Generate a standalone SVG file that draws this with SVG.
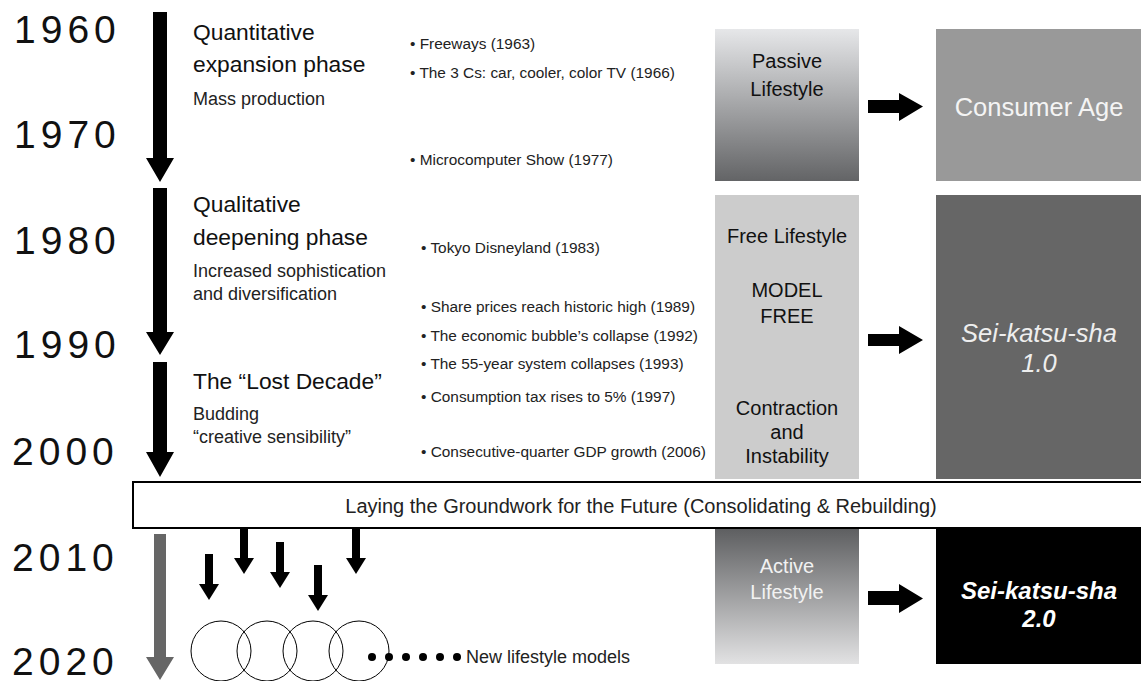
<svg xmlns="http://www.w3.org/2000/svg" width="1141" height="681" viewBox="0 0 1141 681">
<defs>
<linearGradient id="gPassive" x1="0" y1="0" x2="0" y2="1"><stop offset="0" stop-color="#e6e7e9"/><stop offset="1" stop-color="#636466"/></linearGradient>
<linearGradient id="gActive" x1="0" y1="0" x2="0" y2="1"><stop offset="0" stop-color="#5e5f61"/><stop offset="1" stop-color="#e2e2e3"/></linearGradient>
<style>
text{font-family:"Liberation Sans",Arial,sans-serif}
.yr{font-size:39px;fill:#111;letter-spacing:5px}
.ph{font-size:22.8px;fill:#111}
.sub{font-size:18px;fill:#222}
.ev{font-size:15.4px;fill:#222}
.bx{font-size:20px;text-anchor:middle}
.big{font-size:25.5px;text-anchor:middle}
</style>
</defs>
<rect width="1141" height="681" fill="#fff"/>

<g id="years">
<text class="yr" x="14" y="43">1960</text>
<text class="yr" x="14" y="148">1970</text>
<text class="yr" x="14" y="254">1980</text>
<text class="yr" x="14" y="358">1990</text>
<text class="yr" x="12" y="465">2000</text>
<text class="yr" x="12" y="571">2010</text>
<text class="yr" x="12" y="675">2020</text>
</g>

<g id="timeline-arrows">
<polygon points="153,12 167,12 167,158 174,158 160,182 146,158 153,158" fill="#000"/>
<polygon points="153,188 167,188 167,332 174,332 160,355 146,332 153,332" fill="#000"/>
<polygon points="153,362 167,362 167,452 174,452 160,477 146,452 153,452" fill="#000"/>
<polygon points="154,534 166,534 166,657 174,657 160,680 146,657 154,657" fill="#666"/>
</g>

<g id="phase1">
<text class="ph" x="193" y="40">Quantitative</text>
<text class="ph" x="193" y="72">expansion phase</text>
<text class="sub" x="193" y="105">Mass production</text>
</g>
<g id="phase2">
<text class="ph" x="193" y="212">Qualitative</text>
<text class="ph" x="193" y="245">deepening phase</text>
<text class="sub" x="193" y="277">Increased sophistication</text>
<text class="sub" x="193" y="300">and diversification</text>
</g>
<g id="phase3">
<text class="ph" x="193" y="389">The “Lost Decade”</text>
<text class="sub" x="193" y="420">Budding</text>
<text class="sub" x="193" y="443">“creative sensibility”</text>
</g>

<g id="events">
<text class="ev" x="410" y="49">• Freeways (1963)</text>
<text class="ev" x="410" y="78">• The 3 Cs: car, cooler, color TV (1966)</text>
<text class="ev" x="410" y="165">• Microcomputer Show (1977)</text>
<text class="ev" x="421" y="253">• Tokyo Disneyland (1983)</text>
<text class="ev" x="421" y="312">• Share prices reach historic high (1989)</text>
<text class="ev" x="421" y="341">• The economic bubble’s collapse (1992)</text>
<text class="ev" x="421" y="369">• The 55-year system collapses (1993)</text>
<text class="ev" x="421" y="402">• Consumption tax rises to 5% (1997)</text>
<text class="ev" x="421" y="457">• Consecutive-quarter GDP growth (2006)</text>
</g>

<g id="passive">
<rect x="715" y="29" width="144" height="152" fill="url(#gPassive)"/>
<text class="bx" x="787" y="68" fill="#111">Passive</text>
<text class="bx" x="787" y="96" fill="#111">Lifestyle</text>
</g>
<g id="consumer-age">
<rect x="936" y="29" width="205" height="152" fill="#999"/>
<text class="big" x="1039" y="116" fill="#f4f4f4">Consumer Age</text>
</g>
<g id="free">
<rect x="715" y="195" width="144" height="284" fill="#ccc"/>
<text class="bx" x="787" y="243" fill="#111">Free Lifestyle</text>
<text class="bx" x="787" y="297" fill="#111">MODEL</text>
<text class="bx" x="787" y="323" fill="#111">FREE</text>
<text class="bx" x="787" y="415" fill="#111">Contraction</text>
<text class="bx" x="787" y="439" fill="#111">and</text>
<text class="bx" x="787" y="463" fill="#111">Instability</text>
</g>
<g id="seikatsusha1">
<rect x="936" y="195" width="205" height="284" fill="#666"/>
<text class="big" x="1039" y="342" fill="#eee" font-style="italic">Sei-katsu-sha</text>
<text class="big" x="1039" y="372" fill="#eee" font-style="italic">1.0</text>
</g>
<g id="active">
<rect x="715" y="529" width="144" height="135" fill="url(#gActive)"/>
<text class="bx" x="787" y="573" fill="#f2f2f2">Active</text>
<text class="bx" x="787" y="599" fill="#f2f2f2">Lifestyle</text>
</g>
<g id="seikatsusha2">
<rect x="936" y="529" width="205" height="135" fill="#000"/>
<text x="1039" y="599" fill="#fff" font-size="24" font-weight="bold" font-style="italic" text-anchor="middle">Sei-katsu-sha</text>
<text x="1039" y="627" fill="#fff" font-size="24" font-weight="bold" font-style="italic" text-anchor="middle">2.0</text>
</g>

<g id="groundwork">
<rect x="133" y="482" width="1020" height="46" fill="#fff" stroke="#000" stroke-width="2"/>
<text x="641" y="513" font-size="20" fill="#222" text-anchor="middle">Laying the Groundwork for the Future (Consolidating &amp; Rebuilding)</text>
</g>

<g id="connectors" fill="#000">
<polygon points="868,100 899,100 899,93 923,106.5 899,121 899,113 868,113"/>
<polygon points="868,334 899,334 899,326 923,340 899,354 899,346 868,346"/>
<polygon points="868,591 899,591 899,584 923,598.5 899,613 899,605 868,605"/>
<polygon points="205,554 213,554 213,584 219,584 209,600 199,584 205,584"/>
<polygon points="240,528 248,528 248,558 254,558 244,574 234,558 240,558"/>
<polygon points="276,542 284,542 284,572 290,572 280,588 270,572 276,572"/>
<polygon points="314,565 322,565 322,595 328,595 318,611 308,595 314,595"/>
<polygon points="352,528 360,528 360,558 366,558 356,574 346,558 352,558"/>
</g>

<g id="lifestyle-models">
<g fill="none" stroke="#000" stroke-width="1">
<circle cx="221" cy="651" r="30"/>
<circle cx="267" cy="651" r="30"/>
<circle cx="313" cy="651" r="30"/>
<circle cx="359" cy="651" r="30"/>
</g>
<g fill="#000">
<circle cx="372" cy="657" r="4"/>
<circle cx="389" cy="657" r="4"/>
<circle cx="406" cy="657" r="4"/>
<circle cx="423" cy="657" r="4"/>
<circle cx="440" cy="657" r="4"/>
<circle cx="457" cy="657" r="4"/>
</g>
<text x="466" y="663" font-size="18" fill="#222">New lifestyle models</text>
</g>
</svg>
